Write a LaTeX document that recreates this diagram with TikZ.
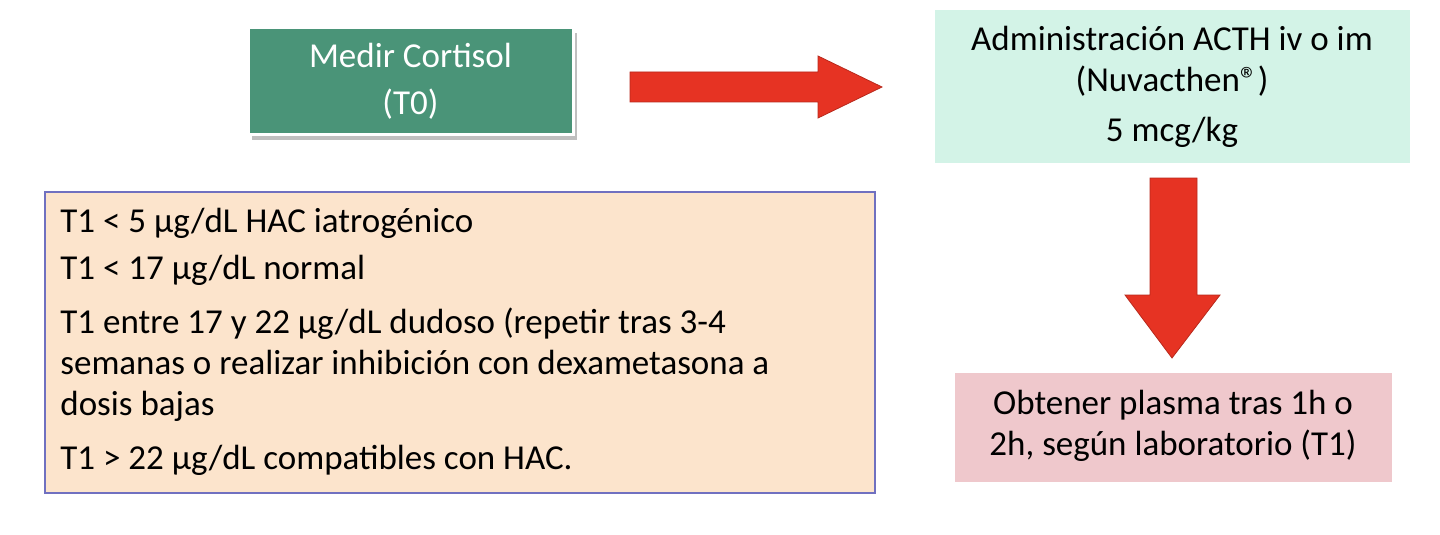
\documentclass[tikz,border=0pt]{standalone}
\usepackage{fontspec}
\setmainfont{Carlito}
\usetikzlibrary{shadows}
\definecolor{grn}{HTML}{4A9478}
\definecolor{cyn}{HTML}{D3F3E7}
\definecolor{pnk}{HTML}{EFC8CC}
\definecolor{org}{HTML}{FCE4CC}
\definecolor{brd}{HTML}{7070C0}
\definecolor{arr}{HTML}{E63323}
\begin{document}
\begin{tikzpicture}[x=0.5pt,y=-0.5pt,
  box/.style={inner sep=0pt,align=center,font=\fontsize{17.5}{20.5}\selectfont},
  bigarrow/.style={fill=arr,draw=arr!80!black,line width=0.4pt}]
\useasboundingbox (0,0) rectangle (1440,535);
% green box
\fill[black!25] (252,33) rectangle (577,140);
\draw[white,line width=1.5pt,fill=grn] (248,28) rectangle (573,135);
\node[box,text=white] (t0) at (410.5,81) {Medir Cortisol\\[3pt](T0)};
% cyan box
\fill[cyn] (935,10) rectangle (1410,163);
\node[box] (acth) at (1172,87) {Administración ACTH iv o im\\[0pt](Nuvacthen®)\\[4.5pt]5 mcg/kg};
% pink box
\fill[pnk] (955,373) rectangle (1392,482);
\node[box,align=center] (t1) at (1173,426) {Obtener plasma tras 1h o\\2h, según laboratorio (T1)};
% orange box
\draw[brd,line width=0.8pt,fill=org] (45,192) rectangle (875,493);
\node[box,align=left,anchor=north west,font=\fontsize{17.5}{20.5}\selectfont] (res) at (60,208) {%
T1 < 5 µg/dL HAC iatrogénico\\[3pt]
T1 < 17 µg/dL normal\\[6.5pt]
T1 entre 17 y 22 µg/dL dudoso (repetir tras 3-4\\
semanas o realizar inhibición con dexametasona a\\
dosis bajas\\[6.5pt]
T1 > 22 µg/dL compatibles con HAC.};
% right arrow
\draw[bigarrow] (630,72) -- (818,72) -- (818,56) -- (882,87) -- (818,118) -- (818,102) -- (630,102) -- cycle;
% down arrow
\draw[bigarrow] (1150,178) -- (1197,178) -- (1197,295) -- (1220,295) -- (1172,358) -- (1125,295) -- (1150,295) -- cycle;
\end{tikzpicture}
\end{document}
